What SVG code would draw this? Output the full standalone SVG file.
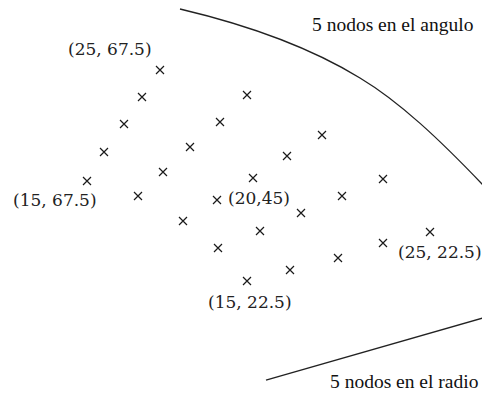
<svg xmlns="http://www.w3.org/2000/svg" xmlns:xlink="http://www.w3.org/1999/xlink" width="482" height="394" viewBox="0 0 482 394">
<style>
.mk{stroke:#1a1a1a;stroke-width:1.2;fill:none}
.ln{stroke:#222;stroke-width:1.3;fill:none}
.co{font-family:"DejaVu Serif",serif;font-size:17px;fill:#222}
.lb{font-family:"Liberation Serif",serif;font-size:19.5px;fill:#111}
</style>
<defs>
<path id="x" class="mk" d="M-4,-4L4,4M4,-4L-4,4"/>
</defs>
<rect width="482" height="394" fill="#fff"/>
<g id="connectors">
<path class="ln" d="M180,9 Q290,35 360,78 C400,102 440,140 483,185"/>
<path class="ln" d="M266,380 L483,318"/>
</g>
<g id="n-67-15"><use xlink:href="#x" x="87" y="181"/></g>
<g id="n-67-17"><use xlink:href="#x" x="104" y="152"/></g>
<g id="n-67-20"><use xlink:href="#x" x="124" y="124"/></g>
<g id="n-67-22"><use xlink:href="#x" x="142" y="97"/></g>
<g id="n-67-25"><use xlink:href="#x" x="160" y="70"/></g>
<g id="n-56-15"><use xlink:href="#x" x="138" y="196"/></g>
<g id="n-56-17"><use xlink:href="#x" x="163" y="172"/></g>
<g id="n-56-20"><use xlink:href="#x" x="190" y="147"/></g>
<g id="n-56-22"><use xlink:href="#x" x="220" y="122"/></g>
<g id="n-56-25"><use xlink:href="#x" x="247" y="95"/></g>
<g id="n-45-15"><use xlink:href="#x" x="183" y="221"/></g>
<g id="n-45-17"><use xlink:href="#x" x="217" y="200"/></g>
<g id="n-45-20"><use xlink:href="#x" x="253" y="178"/></g>
<g id="n-45-22"><use xlink:href="#x" x="287" y="156"/></g>
<g id="n-45-25"><use xlink:href="#x" x="322" y="135"/></g>
<g id="n-33-15"><use xlink:href="#x" x="218" y="248"/></g>
<g id="n-33-17"><use xlink:href="#x" x="260" y="231"/></g>
<g id="n-33-20"><use xlink:href="#x" x="301" y="213"/></g>
<g id="n-33-22"><use xlink:href="#x" x="342" y="196"/></g>
<g id="n-33-25"><use xlink:href="#x" x="383" y="179"/></g>
<g id="n-22-15"><use xlink:href="#x" x="247" y="281"/></g>
<g id="n-22-17"><use xlink:href="#x" x="290" y="270"/></g>
<g id="n-22-20"><use xlink:href="#x" x="338" y="258"/></g>
<g id="n-22-22"><use xlink:href="#x" x="383" y="243"/></g>
<g id="n-22-25"><use xlink:href="#x" x="430" y="232"/></g>
<g id="labels">
<text class="co" x="68" y="55">(25, 67.5)</text>
<text class="co" x="13" y="205.5">(15, 67.5)</text>
<text class="co" x="228" y="204">(20,45)</text>
<text class="co" x="208" y="307.5">(15, 22.5)</text>
<text class="co" x="398" y="257.5">(25, 22.5)</text>
<text class="lb" x="312" y="31">5 nodos en el angulo</text>
<text class="lb" x="330" y="388">5 nodos en el radio</text>
</g>
</svg>
